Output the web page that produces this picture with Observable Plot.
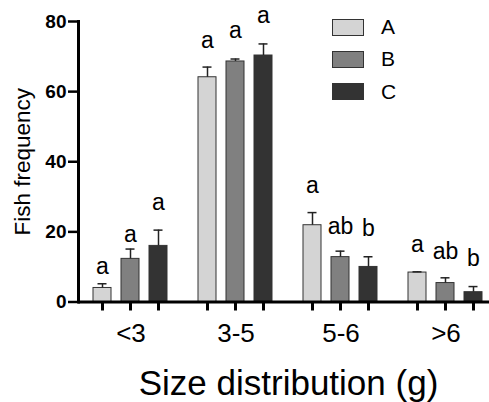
<!DOCTYPE html>
<html>
<head>
<meta charset="utf-8">
<script src="https://cdn.jsdelivr.net/npm/d3@7"></script>
<script src="https://cdn.jsdelivr.net/npm/@observablehq/plot@0.6"></script>
<style>
  html, body { margin: 0; padding: 0; background: #fff; overflow: hidden; }
  #wrap { position: relative; width: 489px; height: 402px; font-family: "Liberation Sans", Arial, Helvetica, sans-serif; }
  #legend { position: absolute; left: 332px; top: 11px; }
  .row { display: flex; align-items: center; height: 32.3px; }
  .sw { width: 30px; height: 15px; border: 1px solid #333; box-sizing: content-box; }
  .lab { margin-left: 17px; font-size: 21px; color: #000; }
</style>
</head>
<body>
<div id="wrap"><div id="legend"></div></div>
<script>
// ---- data ----
const groups = ["<3", "3-5", "5-6", ">6"];
const series = ["A", "B", "C"];
const colors = ["#d4d4d4", "#808080", "#333333"];

const meanA = [4.0, 64.1, 21.9, 8.4];
const meanB = [12.3, 68.6, 12.8, 5.4];
const meanC = [16.0, 70.3, 10.0, 2.8];

// upper end of the error bars
const errA = [5.2, 67.0, 25.5, 8.6];
const errB = [15.1, 69.3, 14.5, 6.9];
const errC = [20.5, 73.6, 12.9, 4.4];

// significance letters and the height (in y units) of their baselines
const letA = ["a", "a", "a", "a"];
const letB = ["a", "a", "ab", "ab"];
const letC = ["a", "a", "b", "b"];
const letYA = [7.9, 72.4, 31.2, 14.4];
const letYB = [17.2, 75.4, 19.5, 12.2];
const letYC = [26.3, 79.5, 18.9, 10.3];

const yTicks = [0, 20, 40, 60, 80];
const yLabel = "Fish frequency";
const xLabel = "Size distribution (g)";

// ---- table ----
const means = [meanA, meanB, meanC];
const errs = [errA, errB, errC];
const lets = [letA, letB, letC];
const letYs = [letYA, letYB, letYC];
const rows = [];
groups.forEach((g, i) => series.forEach((s, j) => rows.push({
  group: g, series: s, value: means[j][i], err: errs[j][i], letter: lets[j][i], letterY: letYs[j][i]
})));

const font = "'Liberation Sans', Arial, Helvetica, sans-serif";

const chart = Plot.plot({
  width: 489,
  height: 402,
  marginLeft: 77,
  marginRight: -10,
  marginTop: 21,
  marginBottom: 100.5,
  style: { fontFamily: font, background: "white", color: "black", overflow: "visible" },
  fx: { domain: groups, padding: 0, axis: null, label: null },
  x: { domain: series, paddingInner: 0.345, paddingOuter: 0.49, axis: null },
  y: { domain: [0, 80], axis: null },
  color: { domain: series, range: colors },
  marks: [
    Plot.barY(rows, { fx: "group", x: "series", y: "value", fill: "series", stroke: "#333", strokeWidth: 1 }),
    Plot.ruleX(rows, { fx: "group", x: "series", y1: "value", y2: "err", stroke: "#222", strokeWidth: 1.5 }),
    Plot.tickY(rows, { fx: "group", x: "series", y: "err", stroke: "#222", strokeWidth: 1.5, insetLeft: 4.5, insetRight: 4.5 }),
    Plot.text(rows, { fx: "group", x: "series", y: "letterY", text: "letter", fontSize: 23, lineAnchor: "bottom", fill: "black" }),
    Plot.ruleY([0], { stroke: "black", strokeWidth: 3 }),
    Plot.axisX({ tickSize: 9, strokeWidth: 3, stroke: "black", fill: "none", label: null }),
    Plot.axisY({ ticks: yTicks, tickSize: 10, tickPadding: 2, strokeWidth: 2.5, stroke: "black", fontSize: 19, fontWeight: "bold", label: null }),
    Plot.axisY({ ticks: yTicks, tickSize: 0, tickFormat: () => "", label: yLabel, labelAnchor: "center", labelArrow: "none", labelOffset: 64, fontSize: 22.5 }),
    Plot.axisFx({ anchor: "bottom", tickSize: 0, tickPadding: 22, fontSize: 26, label: null }),
    Plot.axisFx({ anchor: "bottom", tickSize: 0, tickFormat: () => "", label: xLabel, labelAnchor: "center", labelArrow: "none", labelOffset: 93, fontSize: 35 }),
    Plot.frame({ anchor: "left", facet: "super", stroke: "black", strokeWidth: 3 })
  ]
});
document.getElementById("wrap").prepend(chart);

// legend
const legend = document.getElementById("legend");
series.forEach((s, j) => {
  const row = document.createElement("div");
  row.className = "row";
  const sw = document.createElement("div");
  sw.className = "sw";
  sw.style.background = colors[j];
  const lab = document.createElement("span");
  lab.className = "lab";
  lab.textContent = s;
  row.append(sw, lab);
  legend.append(row);
});
</script>
</body>
</html>
